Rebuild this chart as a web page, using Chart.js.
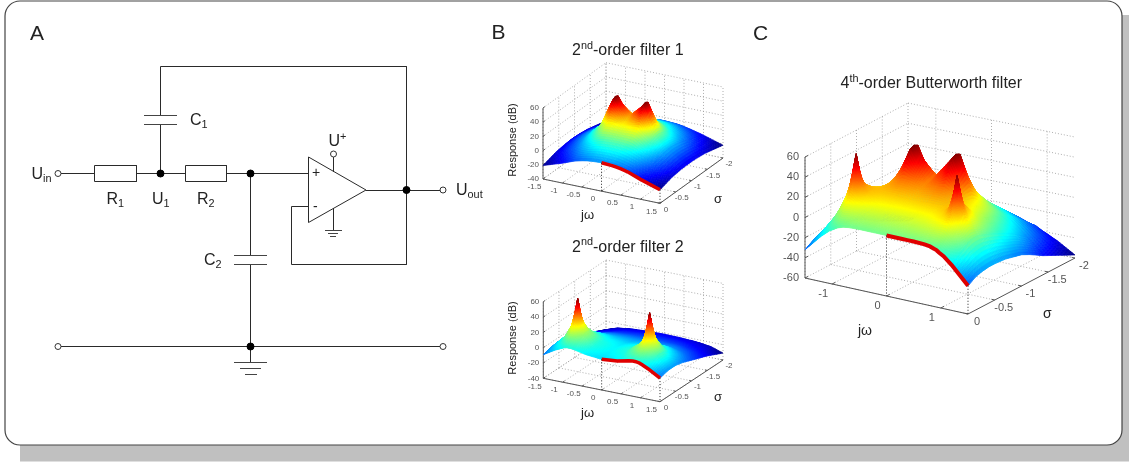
<!DOCTYPE html>
<html>
<head>
<meta charset="utf-8">
<title>Filter responses</title>
<script src="https://cdn.jsdelivr.net/npm/chart.js@4"></script>
<style>
  html, body { margin: 0; padding: 0; background: #fff; overflow: hidden; }
  canvas { display: block; filter: blur(0.4px); }
</style>
</head>
<body>
<canvas id="chart" width="1129" height="464"></canvas>
<script>
const jw1 = [-1.5, -1, -0.7, -0.5, -0.383, -0.27, 0, 0.27, 0.383, 0.5, 0.7, 1, 1.5];
const sigma1 = [0, 0.4, 0.7, 0.85, 0.924, 1, 1.15, 1.4, 2];
const response1 = [
  [-21, -12, -5.7, -3, -1.8, -0.9, 0, -0.9, -1.8, -3, -5.7, -12, -21],
  [-15.3, -3.1, 5.3, 10.3, 12.5, 13.9, 15, 13.9, 12.5, 10.3, 5.3, -3.1, -15.3],
  [-13.4, 1.5, 14.8, 25.5, 31, 31, 29, 31, 31, 25.5, 14.8, 1.5, -13.4],
  [-13, 2.6, 18.1, 44, 58, 48, 35, 48, 58, 44, 18.1, 2.6, -13],
  [-12.9, 2.8, 18.6, 48, 60, 52, 38, 52, 60, 48, 18.6, 2.8, -12.9],
  [-13, 2.6, 18.1, 44, 58, 48, 35, 48, 58, 44, 18.1, 2.6, -13],
  [-13.4, 1.5, 14.8, 25.4, 30, 30.4, 28.2, 30.4, 30, 25.4, 14.8, 1.5, -13.4],
  [-14.9, -2.3, 6.8, 12.4, 14.7, 16.1, 17.1, 16.1, 14.7, 12.4, 6.8, -2.3, -14.9],
  [-22, -13.5, -9.4, -7.1, -6.1, -5.4, -4.6, -5.4, -6.1, -7.1, -9.4, -13.5, -22]
];

const jw2 = [-1.5, -1.2, -1.05, -0.97, -0.924, -0.88, -0.8, -0.7, -0.4, 0, 0.4, 0.7, 0.8, 0.88, 0.924, 0.97, 1.05, 1.2, 1.5];
const sigma2 = [0, 0.15, 0.28, 0.34, 0.383, 0.43, 0.49, 0.7, 1.1, 1.5, 2];
const response2 = [
  [-9.2, -0.3, 3.3, 5, 5.6, 5.9, 6, 5.2, 1.9, 0, 1.9, 5.2, 6, 5.9, 5.6, 5, 3.3, -0.3, -9.2],
  [-7.2, 4.5, 10.5, 13.5, 14.5, 14.5, 13.5, 11, 4.5, 1.7, 4.5, 11, 13.5, 14.5, 14.5, 13.5, 10.5, 4.5, -7.2],
  [-6.1, 8.1, 19, 26, 30, 28, 21, 15.9, 6, 2.5, 6, 15.9, 21, 28, 30, 26, 19, 8.1, -6.1],
  [-5.9, 9, 24, 38, 47, 38, 25, 17.4, 6.3, 2.6, 6.3, 17.4, 25, 38, 47, 38, 24, 9, -5.9],
  [-5.8, 9.3, 26, 47, 60, 47, 27, 17.6, 6.4, 2.7, 6.4, 17.6, 27, 47, 60, 47, 26, 9.3, -5.8],
  [-5.9, 8.8, 24, 38, 47, 38, 25, 17.3, 6.2, 2.6, 6.2, 17.3, 25, 38, 47, 38, 24, 8.8, -5.9],
  [-6.1, 8, 19, 25.5, 29.5, 27, 21, 15.8, 5.9, 2.5, 5.9, 15.8, 21, 27, 29.5, 25.5, 19, 8, -6.1],
  [-8.2, 1.8, 6.2, 8.4, 9, 9.3, 9.1, 7.7, 3.2, 0.8, 3.2, 7.7, 9.1, 9.3, 9, 8.4, 6.2, 1.8, -8.2],
  [-14.7, -9.4, -7.5, -6.6, -6.1, -5.8, -5.3, -5, -5, -5.4, -5, -5, -5.3, -5.8, -6.1, -6.6, -7.5, -9.4, -14.7],
  [-21, -17.6, -16.4, -15.8, -15.3, -15, -14.5, -14, -13.2, -12.9, -13.2, -14, -14.5, -15, -15.3, -15.8, -16.4, -17.6, -21],
  [-31, -25.7, -24.8, -24.3, -24, -23.8, -23.3, -22.9, -22, -21.6, -22, -22.9, -23.3, -23.8, -24, -24.3, -24.8, -25.7, -31]
];

const jw3 = [-1.5, -1.2, -1.05, -0.97, -0.924, -0.88, -0.8, -0.7, -0.5, -0.383, -0.27, 0, 0.27, 0.383, 0.5, 0.7, 0.8, 0.88, 0.924, 0.97, 1.05, 1.2, 1.5];
const sigma3 = [0, 0.15, 0.28, 0.34, 0.383, 0.43, 0.49, 0.7, 0.85, 0.924, 1, 1.15, 1.4, 2];
const response3 = [
  [-32, -15, -8, -5.5, -3.8, -2.8, -1.3, -0.5, 0, 0, 0, 0, 0, 0, 0, -0.5, -1.3, -2.8, -3.8, -5.5, -8, -15, -32],
  [-27, -8, 2, 6, 8.2, 9.4, 9.8, 9.1, 7.7, 7.3, 7, 6.8, 7, 7.3, 7.7, 9.1, 9.8, 9.4, 8.2, 6, 2, -8, -27],
  [-25, -2, 13, 21, 26, 24, 20, 17.7, 14, 13.3, 12.9, 12.5, 12.9, 13.3, 14, 17.7, 20, 24, 26, 21, 13, -2, -25],
  [-24.5, -0.2, 19, 34, 46, 36, 25, 20, 16.5, 15.7, 15.3, 15, 15.3, 15.7, 16.5, 20, 25, 36, 46, 34, 19, -0.2, -24.5],
  [-24, 0.7, 22, 46, 60, 46, 28, 22.4, 18.5, 17.8, 17.5, 17, 17.5, 17.8, 18.5, 22.4, 28, 46, 60, 46, 22, 0.7, -24],
  [-24, 0.7, 20, 34, 46, 36, 27, 23, 20.3, 19.9, 19.6, 19, 19.6, 19.9, 20.3, 23, 27, 36, 46, 34, 20, 0.7, -24],
  [-24, 0.7, 15, 24, 30, 28, 26, 23.9, 22.4, 22.3, 22.2, 21.5, 22.2, 22.3, 22.4, 23.9, 26, 28, 30, 24, 15, 0.7, -24],
  [-25, -3.5, 6, 10.5, 13.4, 16, 19, 22.5, 30, 32.9, 32.4, 29, 32.4, 32.9, 30, 22.5, 19, 16, 13.4, 10.5, 6, -3.5, -25],
  [-27, -7.5, 0.8, 5, 7.8, 10.5, 15, 20.4, 42, 58, 46, 31.6, 46, 58, 42, 20.4, 15, 10.5, 7.8, 5, 0.8, -7.5, -27],
  [-28, -9.5, -1.5, 3, 5.3, 8, 13, 18.6, 48, 60, 52, 33, 52, 60, 48, 18.6, 13, 8, 5.3, 3, -1.5, -9.5, -28],
  [-29, -11.6, -4, 0.5, 2.6, 5.5, 10.5, 15.8, 40, 58, 44, 29.1, 44, 58, 40, 15.8, 10.5, 5.5, 2.6, 0.5, -4, -11.6, -29],
  [-33, -15.9, -9.2, -5, -3, -0.5, 4, 8.5, 19.3, 23.7, 24.2, 21.8, 24.2, 23.7, 19.3, 8.5, 4, -0.5, -3, -5, -9.2, -15.9, -33],
  [-41, -26, -18.5, -15, -13.3, -11.5, -8, -5.2, 1, 3.5, 5, 6.1, 5, 3.5, 1, -5.2, -8, -11.5, -13.3, -15, -18.5, -26, -41],
  [-57, -47, -43, -41, -40, -38.5, -36, -35, -31, -30, -29, -28, -29, -30, -31, -35, -36, -38.5, -40, -41, -43, -47, -57]
];

// tick labels
const zTicksB = [-40, -20, 0, 20, 40, 60];
const jwTicksB = [-1.5, -1, -0.5, 0, 0.5, 1, 1.5];
const sigmaTicksB = [0, 0.5, 1, 1.5, 2];
const zTicksC = [-60, -40, -20, 0, 20, 40, 60];
const jwTicksC = [-1, 0, 1];
const sigmaTicksC = [0, 0.5, 1, 1.5, 2];

// schematic, in page units
const wires = [
  [[58, 173.5], [94.5, 173.5]], [[136.5, 173.5], [185.5, 173.5]], [[226.5, 173.5], [308.5, 173.5]],
  [[160.5, 173.5], [160.5, 124]], [[160.5, 115.5], [160.5, 66.5], [406.5, 66.5], [406.5, 264.5], [291.5, 264.5], [291.5, 206.5], [308.5, 206.5]],
  [[366, 190.5], [443, 190.5]], [[250.5, 173.5], [250.5, 256]], [[250.5, 264], [250.5, 362.5]],
  [[58, 346.5], [443, 346.5]], [[333.5, 172], [333.5, 154]], [[333.5, 208], [333.5, 230]]
];
const outlines = [
  [[94.5, 165.5], [136.5, 165.5], [136.5, 181.5], [94.5, 181.5], [94.5, 165.5]],
  [[185.5, 165.5], [226.5, 165.5], [226.5, 181.5], [185.5, 181.5], [185.5, 165.5]],
  [[308.5, 157], [366, 190], [308.5, 222.5], [308.5, 157]]
];
const plates = [
  [[144, 115.5], [177, 115.5]], [[144, 124.5], [177, 124.5]],
  [[234, 255.5], [267, 255.5]], [[234, 264.5], [267, 264.5]],
  [[234, 362.5], [267, 362.5]], [[240, 368.5], [261, 368.5]], [[245, 374.5], [257, 374.5]],
  [[325, 230.5], [342, 230.5]], [[328, 233.5], [338, 233.5]], [[330, 236.5], [336, 236.5]]
];
const junctions = [[160.5, 173.5], [250.5, 173.5], [406.5, 190], [250.5, 346.5]];
const terminals = [[58, 173.5], [443, 190], [58, 346.5], [443, 346.5], [333.5, 154]];

const labels = [
  { x: 30, y: 40, size: 21, runs: [['A']] },
  { x: 491.5, y: 39, size: 21, runs: [['B']] },
  { x: 753, y: 40, size: 21, runs: [['C']] },
  { x: 31.5, y: 179, size: 16, runs: [['U'], ['in', 'sub']] },
  { x: 106.5, y: 204, size: 16, runs: [['R'], ['1', 'sub']] },
  { x: 152, y: 204, size: 16, runs: [['U'], ['1', 'sub']] },
  { x: 197, y: 204, size: 16, runs: [['R'], ['2', 'sub']] },
  { x: 190, y: 125, size: 16, runs: [['C'], ['1', 'sub']] },
  { x: 204, y: 265, size: 16, runs: [['C'], ['2', 'sub']] },
  { x: 328.5, y: 146, size: 16, runs: [['U'], ['+', 'sup']] },
  { x: 456, y: 195, size: 16, runs: [['U'], ['out', 'sub']] },
  { x: 312, y: 177, size: 14, runs: [['+']] },
  { x: 313, y: 211, size: 14, runs: [['-']] },
  { x: 572, y: 55, size: 16, runs: [['2'], ['nd', 'sup'], ['-order filter 1']] },
  { x: 572, y: 251.5, size: 16, runs: [['2'], ['nd', 'sup'], ['-order filter 2']] },
  { x: 840.5, y: 88, size: 16, runs: [['4'], ['th', 'sup'], ['-order Butterworth filter']] },
  { x: 581, y: 219, size: 13, runs: [['jω']] },
  { x: 581, y: 417, size: 13, runs: [['jω']] },
  { x: 714, y: 203, size: 13, runs: [['σ']] },
  { x: 714, y: 401, size: 13, runs: [['σ']] },
  { x: 858, y: 335, size: 14, runs: [['jω']] },
  { x: 1043, y: 318, size: 14, runs: [['σ']] }
];

const views = {
  first: {
    floor: { fl: [543, 179], fr: [660, 203.3], bl: [606, 133.7], br: [723, 158] },
    zMin: -40, zMax: 60, pxPerDb: 0.71, zTicks: zTicksB, jwTicks: jwTicksB, sigmaTicks: sigmaTicksB,
    font: 8, jwOff: [-8.5, 8], sigmaOff: [6, 6], zOff: -4, redWidth: 3.5, yTitle: [513, 140]
  },
  second: {
    floor: { fl: [543.3, 378.3], fr: [660, 401.7], bl: [606, 336.6], br: [723, 360] },
    zMin: -40, zMax: 60, pxPerDb: 0.766, zTicks: zTicksB, jwTicks: jwTicksB, sigmaTicks: sigmaTicksB,
    font: 8, jwOff: [-8.5, 8], sigmaOff: [6, 6], zOff: -4, redWidth: 3.5, yTitle: [513, 338]
  },
  third: {
    floor: { fl: [805, 278], fr: [968, 314], bl: [908, 224], br: [1075, 258] },
    zMin: -60, zMax: 60, pxPerDb: 1.008, zTicks: zTicksC, jwTicks: jwTicksC, sigmaTicks: sigmaTicksC,
    font: 11, jwOff: [-9, 10], sigmaOff: [9, 8], zOff: -6, redWidth: 4
  }
};

function project(view, j, s, z) {
  const t = (j + 1.5) / 3, u = s / 2, f = view.floor;
  const front = [f.fl[0] * (1 - t) + f.fr[0] * t, f.fl[1] * (1 - t) + f.fr[1] * t];
  const back = [f.bl[0] * (1 - t) + f.br[0] * t, f.bl[1] * (1 - t) + f.br[1] * t];
  return {
    x: front[0] * (1 - u) + back[0] * u,
    y: front[1] * (1 - u) + back[1] * u - view.pxPerDb * (z - view.zMin),
    z: z
  };
}

const datasets = [];

function pushLine(points, color, width, dash) {
  datasets.push({
    type: 'scatter', showLine: true, data: points, pointRadius: 0, tension: 0,
    borderColor: color, borderWidth: width, borderDash: dash || []
  });
}

function toXY(list) {
  return list.map(p => ({ x: p[0], y: p[1] }));
}

wires.concat(outlines).forEach(w => pushLine(toXY(w), '#2a2a2a', 1));
plates.forEach(w => pushLine(toXY(w), '#444', 1));
datasets.push({ type: 'scatter', data: toXY(junctions), pointRadius: 3.5, backgroundColor: '#000', borderColor: '#000' });
datasets.push({ type: 'scatter', data: toXY(terminals), pointRadius: 3, backgroundColor: '#fff', borderColor: '#333', borderWidth: 1 });

function addPanel(view, jw, sigma, response) {
  const zMin = view.zMin, zMax = view.zMax, dotted = [1, 2], grey = '#9a9a9a', axis = '#555';
  view.jwTicks.forEach(j => {
    pushLine([project(view, j, 0, zMin), project(view, j, 2, zMin)], grey, 0.8, dotted);
    pushLine([project(view, j, 2, zMin), project(view, j, 2, zMax)], grey, 0.8, dotted);
    pushLine([project(view, j, 0, zMin), project(view, j, 0.06, zMin)], axis, 1);
  });
  view.sigmaTicks.forEach(s => {
    pushLine([project(view, -1.5, s, zMin), project(view, 1.5, s, zMin)], grey, 0.8, dotted);
    pushLine([project(view, -1.5, s, zMin), project(view, -1.5, s, zMax)], grey, 0.8, dotted);
    pushLine([project(view, 1.5, s, zMin), project(view, 1.44, s, zMin)], axis, 1);
  });
  view.zTicks.forEach(z => {
    pushLine([project(view, -1.5, 0, z), project(view, -1.5, 2, z)], grey, 0.8, dotted);
    pushLine([project(view, -1.5, 2, z), project(view, 1.5, 2, z)], grey, 0.8, dotted);
    pushLine([project(view, -1.5, 0, z), project(view, -1.5, 0.06, z)], axis, 1);
  });

  // box edges that carry the ticks
  pushLine([project(view, -1.5, 0, zMin), project(view, -1.5, 0, zMax)], axis, 1);
  pushLine([project(view, -1.5, 0, zMin), project(view, 1.5, 0, zMin)], axis, 1);
  pushLine([project(view, 1.5, 0, zMin), project(view, 1.5, 2, zMin)], axis, 1);

  const cells = [];
  sigma.forEach((s, r) => jw.forEach((j, c) => cells.push(project(view, j, s, response[r][c]))));
  let low = Infinity;
  response.forEach(row => row.forEach(v => { low = Math.min(low, v); }));
  datasets.push({
    type: 'scatter', data: cells, pointRadius: 0,
    surface: { cols: jw.length, rows: sigma.length, low: low, high: zMax }
  });

  // sigma = 0 edge: red above the positive jw half, black drop lines underneath
  const zero = jw.indexOf(0);
  const red = jw.map((j, c) => project(view, j, 0, response[0][c])).slice(zero);
  pushLine(red, '#e00000', view.redWidth);
  [0, jw.length - 1].forEach(c => {
    const k = c === 0 ? zero : c;
    pushLine([project(view, jw[k], 0, response[0][k]), project(view, jw[k], 0, zMin)], '#222', 1, dotted);
  });
}

addPanel(views.first, jw1, sigma1, response1);
addPanel(views.second, jw2, sigma2, response2);
addPanel(views.third, jw3, sigma3, response3);
datasets.forEach((d, i) => { d.order = -i; });

function jet(t) {
  t = Math.max(0, Math.min(1, t));
  const ch = c => Math.round(255 * Math.max(0, Math.min(1, 1.5 - Math.abs(4 * t - c))));
  return 'rgb(' + ch(3) + ',' + ch(2) + ',' + ch(1) + ')';
}

const surfacePlugin = {
  id: 'surface',
  afterDatasetDraw(chart, args) {
    const set = chart.data.datasets[args.index];
    if (!set.surface) return;
    const ctx = chart.ctx, pts = args.meta.data, raw = set.data;
    const { cols, rows, low, high } = set.surface;
    const steps = 8;
    const at = (r, c) => ({ x: pts[r * cols + c].x, y: pts[r * cols + c].y, z: raw[r * cols + c].z });
    const mix = (a, b, t) => ({ x: a.x + (b.x - a.x) * t, y: a.y + (b.y - a.y) * t, z: a.z + (b.z - a.z) * t });
    ctx.save();
    ctx.lineWidth = 0.7;
    // back to front: far sigma rows first, left jw columns first
    for (let r = rows - 2; r >= 0; r--) {
      for (let c = 0; c < cols - 1; c++) {
        const a = at(r, c), b = at(r, c + 1), d = at(r + 1, c), e = at(r + 1, c + 1);
        const corner = (i, k) => mix(mix(a, b, k / steps), mix(d, e, k / steps), i / steps);
        for (let i = steps - 1; i >= 0; i--) {
          for (let k = 0; k < steps; k++) {
            const p = [corner(i, k), corner(i, k + 1), corner(i + 1, k + 1), corner(i + 1, k)];
            const z = (p[0].z + p[1].z + p[2].z + p[3].z) / 4;
            const col = jet((z - low) / (high - low));
            ctx.fillStyle = col;
            ctx.strokeStyle = col;
            ctx.beginPath();
            ctx.moveTo(p[0].x, p[0].y);
            p.slice(1).forEach(q => ctx.lineTo(q.x, q.y));
            ctx.closePath();
            ctx.fill();
            ctx.stroke();
          }
        }
      }
    }
    ctx.restore();
  }
};

function drawRuns(ctx, x, y, size, runs, color) {
  ctx.fillStyle = color;
  ctx.textAlign = 'left';
  ctx.textBaseline = 'alphabetic';
  runs.forEach(run => {
    const small = run[1] === 'sub' || run[1] === 'sup';
    ctx.font = (small ? size * 0.68 : size) + 'px "Liberation Sans"';
    const dy = run[1] === 'sub' ? size * 0.2 : run[1] === 'sup' ? -size * 0.4 : 0;
    ctx.fillText(run[0], x, y + dy);
    x += ctx.measureText(run[0]).width;
  });
}

const textPlugin = {
  id: 'texts',
  beforeDatasetsDraw(chart) {
    const ctx = chart.ctx, sx = chart.scales.x, sy = chart.scales.y;
    const left = sx.getPixelForValue(5), top = sy.getPixelForValue(1);
    const right = sx.getPixelForValue(1122), bottom = sy.getPixelForValue(445);
    ctx.save();
    ctx.fillStyle = '#c0c0c0';
    ctx.fillRect(20, 15, 1129 - 20, 461.5 - 15);
    ctx.beginPath();
    ctx.roundRect(left, top, right - left, bottom - top, 15);
    ctx.fillStyle = '#fff';
    ctx.fill();
    ctx.strokeStyle = '#444';
    ctx.lineWidth = 1.2;
    ctx.stroke();
    ctx.restore();
  },
  afterDatasetsDraw(chart) {
    const ctx = chart.ctx, sx = chart.scales.x, sy = chart.scales.y;
    ctx.save();
    labels.forEach(l => drawRuns(ctx, sx.getPixelForValue(l.x), sy.getPixelForValue(l.y), l.size, l.runs, '#222'));

    Object.values(views).forEach(view => {
      const font = view.font + 'px "Liberation Sans"';
      ctx.font = font;
      ctx.fillStyle = '#555';
      ctx.textBaseline = 'middle';
      ctx.textAlign = 'right';
      view.zTicks.forEach(z => {
        const p = project(view, -1.5, 0, z);
        ctx.fillText(String(z), sx.getPixelForValue(p.x) + view.zOff, sy.getPixelForValue(p.y));
      });
      ctx.textAlign = 'center';
      view.jwTicks.forEach(j => {
        const p = project(view, j, 0, view.zMin);
        ctx.fillText(String(j), sx.getPixelForValue(p.x) + view.jwOff[0], sy.getPixelForValue(p.y) + view.jwOff[1]);
      });
      view.sigmaTicks.forEach(s => {
        const p = project(view, 1.5, s, view.zMin);
        ctx.fillText(String(-s === 0 ? 0 : -s), sx.getPixelForValue(p.x) + view.sigmaOff[0], sy.getPixelForValue(p.y) + view.sigmaOff[1]);
      });
      if (view.yTitle) {
        ctx.save();
        ctx.translate(sx.getPixelForValue(view.yTitle[0]), sy.getPixelForValue(view.yTitle[1]));
        ctx.rotate(-Math.PI / 2);
        ctx.font = '11px "Liberation Sans"';
        ctx.fillStyle = '#222';
        ctx.fillText('Response (dB)', 0, 0);
        ctx.restore();
      }
    });
    ctx.restore();
  }
};

new Chart(document.getElementById('chart'), {
  data: { datasets: datasets },
  plugins: [surfacePlugin, textPlugin],
  options: {
    responsive: false,
    animation: false,
    layout: { padding: 0, autoPadding: false },
    plugins: { legend: { display: false }, tooltip: { enabled: false } },
    scales: {
      x: { type: 'linear', display: false, min: 0, max: 1129 },
      y: { type: 'linear', display: false, min: 0, max: 464, reverse: true }
    }
  }
});
</script>
</body>
</html>
